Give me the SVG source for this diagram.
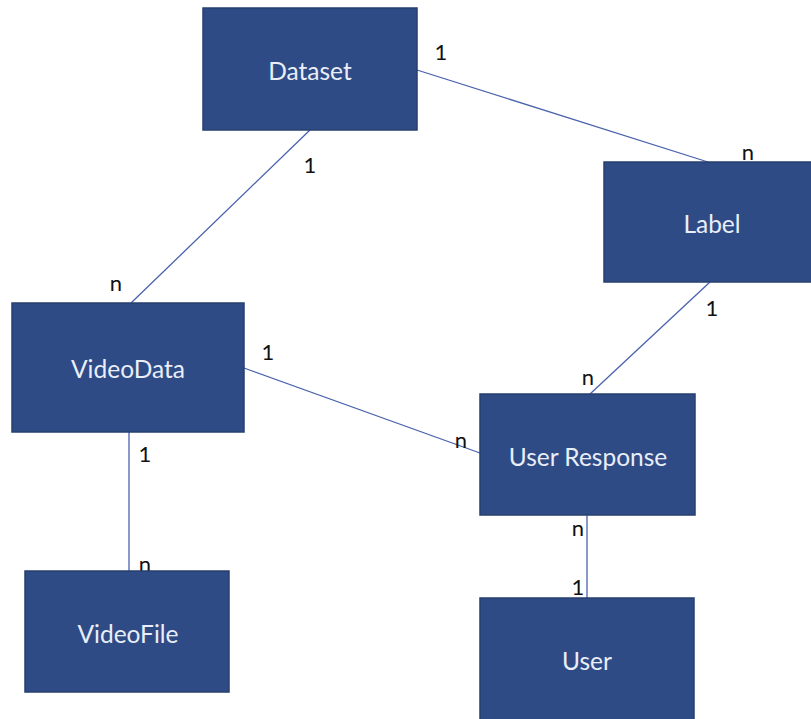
<svg xmlns="http://www.w3.org/2000/svg" width="811" height="719" viewBox="0 0 811 719">
  <style>
    .box { fill: #2f4b86; stroke: #273f6e; stroke-width: 1.5; }
    .name { font-family: Lato, "Open Sans", sans-serif; font-size: 24.5px; fill: #e9eef8; text-anchor: middle; dominant-baseline: central; }
    .link { stroke: #4a62ad; stroke-width: 1.3; fill: none; }
    .card { font-family: Lato, "Open Sans", sans-serif; font-size: 22px; fill: #111111; text-anchor: middle; dominant-baseline: central; }
  </style>
  <rect width="811" height="719" fill="#ffffff"/>

  <!-- relationships -->
  <g id="connectors">
    <line class="link" x1="310" y1="130" x2="131" y2="303"/>
    <line class="link" x1="417" y1="70" x2="708" y2="162"/>
    <line class="link" x1="710" y1="282" x2="590" y2="394"/>
    <line class="link" x1="244" y1="368" x2="480" y2="453"/>
    <line class="link" x1="129" y1="432" x2="129" y2="571"/>
    <line class="link" x1="587" y1="515" x2="587" y2="598"/>
  </g>

  <!-- multiplicities -->
  <g id="cardinalities">
    <text class="card" x="441" y="51">1</text>
    <text class="card" x="310" y="164">1</text>
    <text class="card" x="748" y="151">n</text>
    <text class="card" x="116" y="282">n</text>
    <text class="card" x="712" y="307">1</text>
    <text class="card" x="268" y="351">1</text>
    <text class="card" x="588" y="376">n</text>
    <text class="card" x="461" y="439">n</text>
    <text class="card" x="145" y="453">1</text>
    <text class="card" x="145" y="563">n</text>
    <text class="card" x="578" y="527">n</text>
    <text class="card" x="578" y="586">1</text>
  </g>

  <g id="dataset">
    <rect class="box" x="203" y="8" width="214" height="122"/>
    <text class="name" x="310" y="70">Dataset</text>
  </g>
  <g id="label">
    <rect class="box" x="604" y="162" width="212" height="120"/>
    <text class="name" x="712" y="223">Label</text>
  </g>
  <g id="videodata">
    <rect class="box" x="12" y="303" width="232" height="129"/>
    <text class="name" x="128" y="368">VideoData</text>
  </g>
  <g id="user-response">
    <rect class="box" x="480" y="394" width="215" height="121"/>
    <text class="name" x="588" y="456">User Response</text>
  </g>
  <g id="videofile">
    <rect class="box" x="25" y="571" width="204" height="121"/>
    <text class="name" x="128" y="633">VideoFile</text>
  </g>
  <g id="user">
    <rect class="box" x="480" y="598" width="214" height="130"/>
    <text class="name" x="587" y="660">User</text>
  </g>
</svg>
